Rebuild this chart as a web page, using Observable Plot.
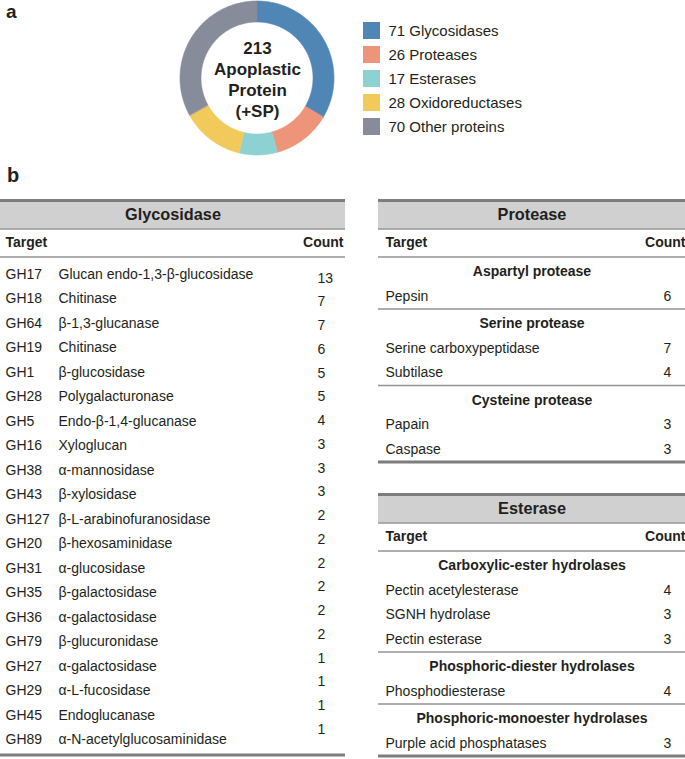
<!DOCTYPE html>
<html><head><meta charset="utf-8">
<script src="https://cdn.jsdelivr.net/npm/d3@7"></script>
<script src="https://cdn.jsdelivr.net/npm/@observablehq/plot@0.6"></script>
<style>
html,body{margin:0;padding:0;background:#fff;overflow:hidden;}
#page{position:relative;width:685px;height:759px;overflow:hidden;background:#fff;font-family:"Liberation Sans",Arial,sans-serif;color:#231f20;}
.panel{position:absolute;}
.panel svg{display:block;}
.lbl{position:absolute;font-weight:bold;line-height:1;}
</style></head><body>
<div id="page">
  <div class="lbl" style="left:6px;top:2px;font-size:19px">a</div>
  <div class="lbl" style="left:7px;top:165px;font-size:20px">b</div>
</div>
<script>
// ---------- data ----------
const classNames = ["Glycosidases", "Proteases", "Esterases", "Oxidoreductases", "Other proteins"];
const classCounts = [71, 26, 17, 28, 70];
const classColors = ["#4f86b5", "#ee9479", "#8dd1d2", "#f2ca5c", "#868c9a"];
const centerTotal = "213";
const centerLines = ["Apoplastic", "Protein", "(+SP)"];

const glycoTitle = "Glycosidase";
const glycoCodes = ["GH17", "GH18", "GH64", "GH19", "GH1", "GH28", "GH5", "GH16", "GH38", "GH43",
  "GH127", "GH20", "GH31", "GH35", "GH36", "GH79", "GH27", "GH29", "GH45", "GH89"];
const glycoNames = ["Glucan endo-1,3-β-glucosidase", "Chitinase", "β-1,3-glucanase", "Chitinase", "β-glucosidase",
  "Polygalacturonase", "Endo-β-1,4-glucanase", "Xyloglucan", "α-mannosidase", "β-xylosidase",
  "β-L-arabinofuranosidase", "β-hexosaminidase", "α-glucosidase", "β-galactosidase", "α-galactosidase",
  "β-glucuronidase", "α-galactosidase", "α-L-fucosidase", "Endoglucanase", "α-N-acetylglucosaminidase"];
const glycoCounts = [13, 7, 7, 6, 5, 5, 4, 3, 3, 3, 2, 2, 2, 2, 2, 2, 1, 1, 1, 1];

const proteaseTitle = "Protease";
const proteaseGroups = ["Aspartyl protease", "Serine protease", "Cysteine protease"];
const proteaseItems = [["Pepsin"], ["Serine carboxypeptidase", "Subtilase"], ["Papain", "Caspase"]];
const proteaseCounts = [[6], [7, 4], [3, 3]];

const esteraseTitle = "Esterase";
const esteraseGroups = ["Carboxylic-ester hydrolases", "Phosphoric-diester hydrolases", "Phosphoric-monoester hydrolases"];
const esteraseItems = [["Pectin acetylesterase", "SGNH hydrolase", "Pectin esterase"], ["Phosphodiesterase"], ["Purple acid phosphatases"]];
const esteraseCounts = [[4, 3, 3], [4], [3]];

const headTarget = "Target";
const headCount = "Count";

// ---------- style ----------
const INK = "#231f20";
const FONT = "'Liberation Sans', Arial, sans-serif";
const page = document.getElementById("page");
function place(node, left, top, width) {
  const d = document.createElement("div");
  d.className = "panel";
  d.style.left = left + "px";
  d.style.top = top + "px";
  d.style.width = width + "px";
  d.appendChild(node);
  page.appendChild(d);
}

// ---------- donut ----------
const RO = 77, RI = 56;
const total = d3.sum(classCounts);
const arcPts = [];
let acc = 0;
classNames.forEach((name, i) => {
  const a0 = acc / total * 2 * Math.PI;
  acc += classCounts[i];
  const a1 = acc / total * 2 * Math.PI;
  const n = Math.max(2, Math.ceil((a1 - a0) / (Math.PI / 180)));
  for (let k = 0; k <= n; k++) {
    const t = a0 + (a1 - a0) * k / n;
    arcPts.push({cat: name, xi: RI * Math.sin(t), yi: RI * Math.cos(t), xo: RO * Math.sin(t), yo: RO * Math.cos(t)});
  }
});
const donut = Plot.plot({
  width: 170, height: 160, margin: 0,
  x: {domain: [-85, 85], axis: null},
  y: {domain: [-82, 78], axis: null},
  color: {domain: classNames, range: classColors},
  style: {fontFamily: FONT, background: "transparent", overflow: "visible"},
  marks: [
    Plot.area(arcPts, {x1: "xi", y1: "yi", x2: "xo", y2: "yo", z: "cat", fill: "cat", stroke: "cat", strokeWidth: 0.6, curve: "linear"}),
    Plot.text([[centerTotal, ...centerLines].join("\n")], {x: () => 0, y: () => 0, text: d => d, fontSize: 17, fontWeight: "bold", lineHeight: 1.24, fill: INK})
  ]
});
place(donut, 172, 0, 170);

// ---------- legend ----------
const legendLabels = classNames.map((n, i) => `${classCounts[i]} ${n}`);
const legend = Plot.plot({
  width: 300, height: 129, marginTop: 0, marginBottom: 0, marginLeft: 0, marginRight: 283,
  x: {type: "band", domain: ["sw"], padding: 0, axis: null},
  y: {type: "band", domain: legendLabels, padding: 0.3, axis: null},
  color: {domain: legendLabels, range: classColors},
  style: {fontFamily: FONT, background: "transparent", overflow: "visible"},
  marks: [
    Plot.cell(legendLabels, {x: () => "sw", y: d => d, fill: d => d}),
    Plot.text(legendLabels, {x: () => "sw", y: d => d, text: d => d, dx: 16.5, textAnchor: "start", fontSize: 15, fill: INK})
  ]
});
place(legend, 363, 14, 300);

// ---------- tables ----------
const H_TITLE = 28.5, H_HEAD = 28, H_GROUP = 27.5, H_ITEM = 24.5;
function tablePlot({title, width, cols, flat, groups, items, counts}) {
  let y = 0;
  const thick = [0], thin = [];
  const band = {y1: 0, y2: H_TITLE};
  const titleY = H_TITLE / 2;
  y += H_TITLE; thin.push(y);
  const headY = y + 14;
  y += H_HEAD; thin.push(y);
  const groupRows = [], itemRows = [];
  if (flat) {
    y += 5;
    flat.names.forEach((nm, i) => {
      itemRows.push({code: flat.codes[i], name: nm, count: flat.counts[i], y: y + H_ITEM / 2, cy: y + H_ITEM / 2 + 4 - i * 0.75});
      y += H_ITEM;
    });
    y += 3;
  } else {
    groups.forEach((g, k) => {
      if (k > 0) thin.push(y);
      groupRows.push({label: g, y: y + 15});
      y += H_GROUP;
      items[k].forEach((nm, j) => {
        itemRows.push({code: null, name: nm, count: counts[k][j], y: y + 11.75, cy: y + 11.75});
        y += H_ITEM;
      });
    });
  }
  thick.push(y);
  const tot = y;
  const marks = [
    Plot.rect([band], {x1: () => 0, x2: () => width, y1: "y1", y2: "y2", fill: "#d0d0d0"}),
    Plot.ruleY(thin, {y: d => d, stroke: "#939393", strokeWidth: 1.5}),
    Plot.ruleY(thick, {y: d => d, stroke: "#7d7d7d", strokeWidth: 3}),
    Plot.text([title], {x: () => width / 2, y: () => titleY, text: d => d, fontSize: 16.3, fontWeight: "bold", fill: INK}),
    Plot.text([headTarget], {x: () => cols.target, y: () => headY, text: d => d, textAnchor: "start", fontSize: 14, fontWeight: "bold", fill: INK}),
    Plot.text([headCount], {x: () => cols.countHead, y: () => headY, text: d => d, textAnchor: "end", fontSize: 14, fontWeight: "bold", fill: INK}),
    Plot.text(groupRows, {x: () => width / 2, y: "y", text: "label", fontSize: 14, fontWeight: "bold", fill: INK}),
    Plot.text(itemRows, {x: () => cols.name, y: "y", text: "name", textAnchor: "start", fontSize: 14, fill: INK}),
    Plot.text(itemRows, {x: () => cols.count, y: "cy", text: d => String(d.count), textAnchor: cols.countAnchor, fontSize: 14, fill: INK})
  ];
  if (flat) marks.push(Plot.text(itemRows, {x: () => cols.code, y: "y", text: "code", textAnchor: "start", fontSize: 14, fill: INK}));
  return {plot: Plot.plot({
    width, height: tot + 4, margin: 0,
    x: {domain: [0, width], axis: null},
    y: {domain: [-2, tot + 2], reverse: true, axis: null},
    style: {fontFamily: FONT, background: "transparent", overflow: "visible"},
    marks
  }), tot};
}

const glyco = tablePlot({
  title: glycoTitle, width: 345,
  cols: {target: 5, countHead: 343, code: 5, name: 58, count: 317, countAnchor: "start"},
  flat: {codes: glycoCodes, names: glycoNames, counts: glycoCounts}
});
place(glyco.plot, 0, 198, 345);

const prot = tablePlot({
  title: proteaseTitle, width: 307,
  cols: {target: 7, countHead: 307, name: 7, count: 289, countAnchor: "middle"},
  groups: proteaseGroups, items: proteaseItems, counts: proteaseCounts
});
place(prot.plot, 378, 198, 307);

const est = tablePlot({
  title: esteraseTitle, width: 307,
  cols: {target: 7, countHead: 307, name: 7, count: 289, countAnchor: "middle"},
  groups: esteraseGroups, items: esteraseItems, counts: esteraseCounts
});
place(est.plot, 378, 492, 307);
</script>
</body></html>
